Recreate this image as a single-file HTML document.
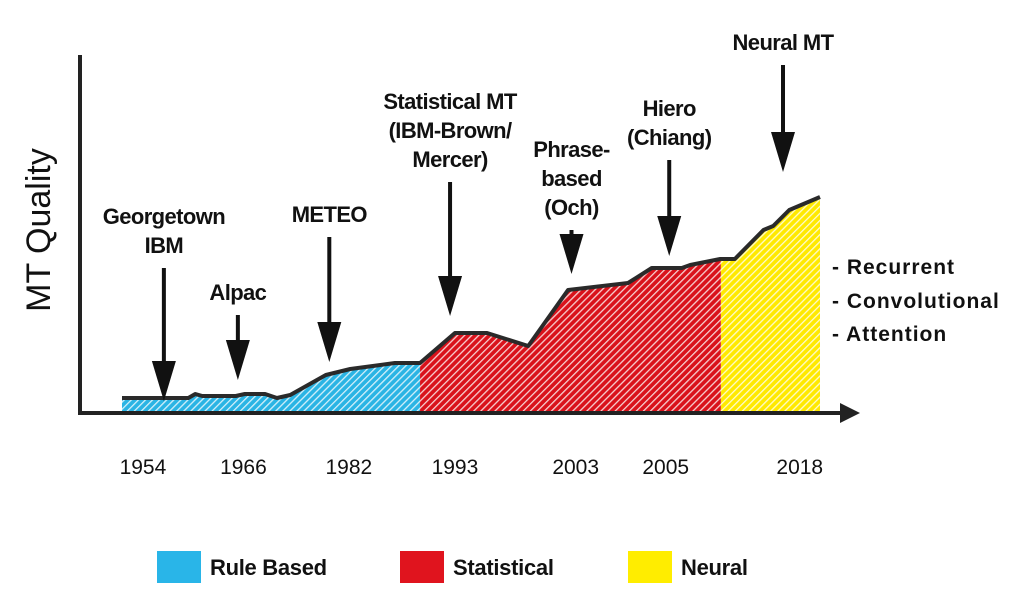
<!DOCTYPE html>
<html><head><meta charset="utf-8"><style>
body{margin:0;background:#fff}
svg{display:block}
text{font-family:"Liberation Sans",sans-serif}
.lbl{font-size:22px;font-weight:bold;letter-spacing:-0.6px;text-anchor:middle;fill:#111}
.yr{font-size:21px;text-anchor:middle;fill:#111}
.rt{font-size:21px;font-weight:bold;letter-spacing:1px;fill:#111}
.lg{font-size:22px;fill:#111;font-weight:bold;letter-spacing:-0.3px}
</style></head><body>
<svg id="chart" width="1024" height="603" viewBox="0 0 1024 603">
<defs>
<pattern id="hb" width="5" height="5" patternUnits="userSpaceOnUse" patternTransform="rotate(45)"><rect width="5" height="5" fill="#2ab4e4"/><rect width="1.3" height="5" fill="#fff" opacity="0.8"/></pattern>
<pattern id="hr" width="5" height="5" patternUnits="userSpaceOnUse" patternTransform="rotate(45)"><rect width="5" height="5" fill="#d9121b"/><rect width="1.3" height="5" fill="#fff" opacity="0.8"/></pattern>
<pattern id="hy" width="5" height="5" patternUnits="userSpaceOnUse" patternTransform="rotate(45)"><rect width="5" height="5" fill="#ffe900"/><rect width="1.3" height="5" fill="#fff" opacity="0.8"/></pattern>
</defs>
<g id="areas"></g>
<g id="axes">
<line x1="80" y1="55" x2="80" y2="415" stroke="#222" stroke-width="4"/>
<line x1="78" y1="413" x2="845" y2="413" stroke="#222" stroke-width="4"/>
<polygon points="840,403 860,413 840,423" fill="#222"/>
</g>
<text x="0" y="0" transform="translate(50,230) rotate(-90)" text-anchor="middle" style="font-size:34px;fill:#111">MT Quality</text>
<g id="years"></g>
<g id="events"></g>
<g>
<text class="rt" x="832" y="274">- Recurrent</text>
<text class="rt" x="832" y="308">- Convolutional</text>
<text class="rt" x="832" y="341">- Attention</text>
</g>
<g>
<rect x="157" y="551" width="44" height="32" fill="#29b5e8"/>
<text class="lg" x="210" y="575">Rule Based</text>
<rect x="400" y="551" width="44" height="32" fill="#e0141e"/>
<text class="lg" x="453" y="575">Statistical</text>
<rect x="628" y="551" width="44" height="32" fill="#ffed00"/>
<text class="lg" x="681" y="575">Neural</text>
</g>
</svg>
<script>
// curve data: time position (0-100) and quality (0-100)
const timePos = [0,9.5,10.5,11.5,16.3,17.6,20.5,22.2,24.1,29.2,32.7,37,39.1,42.7,47.7,52.3,58.2,63.9,72.5,75.9,80.2,81.4,85.7,86.2,87.8,91.9,93.3,95.6,100];
const quality = [6,6,7.6,6.8,6.8,7.6,7.6,6,7.2,15.2,17.6,19.2,20,20,32,32,26.8,49.2,52,58,58,59.2,61.6,61.6,61.6,73.2,74.8,81.2,86.4];
const eraBounds = [0,42.7,85.8,100];
const eraNames = ['rule-based','statistical','neural'];
const yearLabels = ['1954','1966','1982','1993','2003','2005','2018'];
const yearPos = [3,17.4,32.5,47.7,65,77.9,97.1];
const eventPos = [6,16.6,29.7,47,64.4,78.4,94.7];
const eventTop = [58,39.2,70.4,92.4,73.2,101.2,139.2];
const eventTip = [4.8,13.2,20.4,38.8,55.6,62.8,96.4];
const eventLines = [['Georgetown','IBM'],['Alpac'],['METEO'],['Statistical MT','(IBM-Brown/','Mercer)'],['Phrase-','based','(Och)'],['Hiero','(Chiang)'],['Neural MT']];

const X0=122,X1=820,Y0=413;
const sx=t=>X0+(X1-X0)*t/100;
const sy=q=>Y0-q*2.5;
const NS='http://www.w3.org/2000/svg';
function mk(tag,attrs,parent){const e=document.createElementNS(NS,tag);for(const k in attrs)e.setAttribute(k,attrs[k]);parent.appendChild(e);return e;}
function qAt(t){for(let i=0;i<timePos.length-1;i++){if(t>=timePos[i]&&t<=timePos[i+1]){const f=(t-timePos[i])/((timePos[i+1]-timePos[i])||1);return quality[i]+f*(quality[i+1]-quality[i]);}}return quality[quality.length-1];}
const areas=document.getElementById('areas');
const fills=['url(#hb)','url(#hr)','url(#hy)'];
for(let e=0;e<3;e++){
  const a=eraBounds[e],b=eraBounds[e+1];
  let pts=[[sx(a),Y0],[sx(a),sy(qAt(a))]];
  timePos.forEach((t,i)=>{if(t>a&&t<b)pts.push([sx(t),sy(quality[i])]);});
  pts.push([sx(b),sy(qAt(b))],[sx(b),Y0]);
  const p=mk('polygon',{points:pts.map(p=>p.join(',')).join(' '),fill:fills[e]},areas);
  
  
}
const line=mk('polyline',{points:timePos.map((t,i)=>sx(t)+','+sy(quality[i])).join(' '),fill:'none',stroke:'#2a2a2a','stroke-width':4,'stroke-linejoin':'round'},areas);


const yg=document.getElementById('years');
yearLabels.forEach((l,i)=>{const t=mk('text',{class:'yr',x:sx(yearPos[i]),y:474},yg);t.textContent=l;

});
const eg=document.getElementById('events');
eventPos.forEach((p,i)=>{
  const x=sx(p),top=sy(eventTop[i]),tip=sy(eventTip[i]);
  const g=mk('g',{},eg);
  
  
  mk('line',{x1:x,y1:top,x2:x,y2:tip-30,stroke:'#111','stroke-width':4},g);
  mk('polygon',{points:`${x-12},${tip-40} ${x+12},${tip-40} ${x},${tip}`,fill:'#111'},g);
  const lines=eventLines[i];
  lines.forEach((s,j)=>{const t=mk('text',{class:'lbl',x:x,y:top-15-(lines.length-1-j)*29},g);t.textContent=s;});
});
</script>
</body></html>
